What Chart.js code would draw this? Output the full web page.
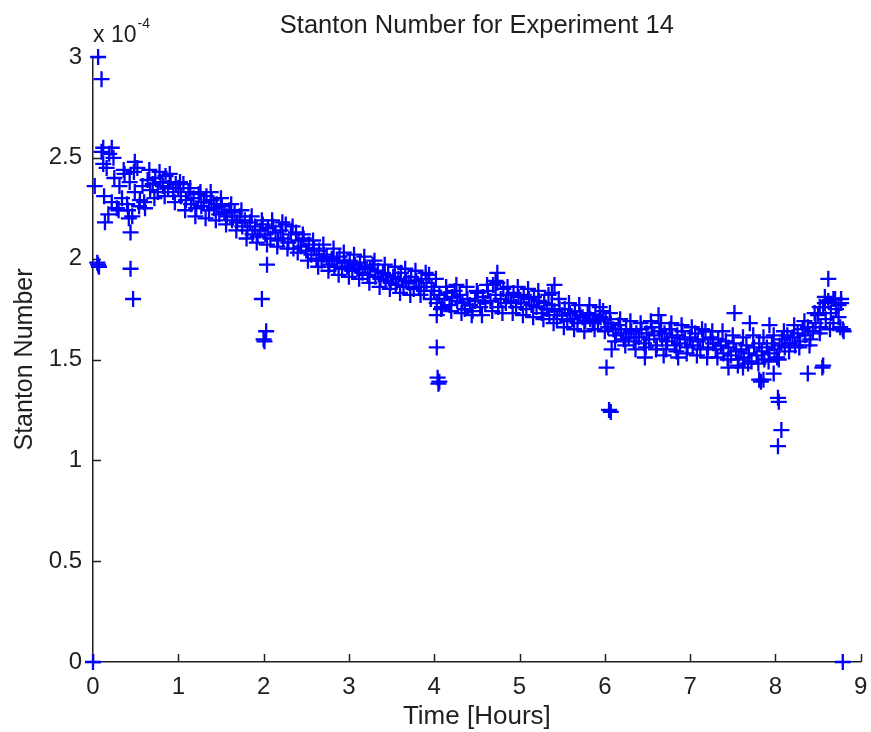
<!DOCTYPE html>
<html><head><meta charset="utf-8">
<script src="https://cdn.jsdelivr.net/npm/chart.js@4/dist/chart.umd.min.js"></script>
<style>html,body{margin:0;padding:0;background:#fff;overflow:hidden;}</style>
</head><body>
<canvas id="c" width="871" height="732"></canvas>
<script>
// Time in hours, main band
const hours = [
0.10,0.13,0.16,0.19,0.22,0.25,0.28,0.31,0.34,0.37,
0.40,0.43,0.46,0.49,0.52,0.55,0.58,0.61,0.64,0.67,
0.70,0.73,0.76,0.79,0.82,0.85,0.88,0.91,0.94,0.97,
1.00,1.03,1.06,1.09,1.12,1.15,1.18,1.21,1.24,1.27,
1.30,1.33,1.36,1.39,1.42,1.45,1.48,1.51,1.54,1.57,
1.60,1.63,1.66,1.69,1.72,1.75,1.78,1.81,1.84,1.87,
1.90,1.93,1.96,1.99,2.02,2.05,2.08,2.11,2.14,2.17,
2.20,2.23,2.26,2.29,2.32,2.35,2.38,2.41,2.44,2.47,
2.50,2.53,2.56,2.59,2.62,2.65,2.68,2.71,2.74,2.77,
2.80,2.83,2.86,2.89,2.92,2.95,2.98,3.01,3.04,3.07,
3.10,3.13,3.16,3.19,3.22,3.25,3.28,3.31,3.34,3.37,
3.40,3.43,3.46,3.49,3.52,3.55,3.58,3.61,3.64,3.67,
3.70,3.73,3.76,3.79,3.82,3.85,3.88,3.91,3.94,3.97,
4.00,4.03,4.06,4.09,4.12,4.15,4.18,4.21,4.24,4.27,
4.30,4.33,4.36,4.39,4.42,4.45,4.48,4.51,4.54,4.57,
4.60,4.63,4.66,4.69,4.72,4.75,4.78,4.81,4.84,4.87,
4.90,4.93,4.96,4.99,5.02,5.05,5.08,5.11,5.14,5.17,
5.20,5.23,5.26,5.29,5.32,5.35,5.38,5.41,5.44,5.47,
5.50,5.53,5.56,5.59,5.62,5.65,5.68,5.71,5.74,5.77,
5.80,5.83,5.86,5.89,5.92,5.95,5.98,6.01,6.04,6.07,
6.10,6.13,6.16,6.19,6.22,6.25,6.28,6.31,6.34,6.37,
6.40,6.43,6.46,6.49,6.52,6.55,6.58,6.61,6.64,6.67,
6.70,6.73,6.76,6.79,6.82,6.85,6.88,6.91,6.94,6.97,
7.00,7.03,7.06,7.09,7.12,7.15,7.18,7.21,7.24,7.27,
7.30,7.33,7.36,7.39,7.42,7.45,7.48,7.51,7.54,7.57,
7.60,7.63,7.66,7.69,7.72,7.75,7.78,7.81,7.84,7.87,
7.90,7.93,7.96,7.99,8.02,8.05,8.08,8.11,8.14,8.17,
8.20,8.23,8.26,8.29,8.32,8.35,8.38,8.41,8.44,8.47,
8.50,8.53,8.56,8.59,8.62,8.65,8.68,8.71,8.74,8.77,
8.80];
// Stanton number (x 10^-4), main band
const stanton = [
2.53,2.31,2.45,2.52,2.28,2.40,2.25,2.36,2.30,2.42,
2.27,2.38,2.21,2.33,2.45,2.29,2.36,2.25,2.39,2.34,
2.37,2.40,2.33,2.38,2.36,2.41,2.35,2.38,2.33,2.37,
2.35,2.31,2.37,2.29,2.33,2.27,2.30,2.25,2.32,2.26,
2.28,2.31,2.24,2.29,2.25,2.27,2.22,2.26,2.23,2.21,
2.24,2.19,2.23,2.18,2.21,2.16,2.19,2.14,2.18,2.12,
2.16,2.11,2.14,2.17,2.12,2.15,2.10,2.16,2.13,2.09,
2.14,2.10,2.17,2.08,2.12,2.05,2.13,2.09,2.06,2.10,
2.04,2.07,2.02,2.05,2.00,2.04,1.99,2.02,2.01,1.97,
2.00,1.96,1.99,2.01,1.95,1.98,1.96,1.99,1.94,1.97,
1.95,1.98,1.93,1.96,1.92,1.95,1.97,1.91,1.94,1.90,
1.93,1.89,1.92,1.88,1.91,1.87,1.90,1.93,1.86,1.89,
1.88,1.91,1.85,1.89,1.86,1.90,1.84,1.88,1.92,1.86,
1.84,1.78,1.82,1.76,1.80,1.83,1.77,1.81,1.84,1.79,
1.82,1.78,1.75,1.80,1.77,1.74,1.79,1.83,1.76,1.81,
1.78,1.84,1.79,1.87,1.82,1.76,1.80,1.85,1.78,1.82,
1.79,1.83,1.76,1.81,1.78,1.82,1.75,1.80,1.77,1.81,
1.76,1.79,1.73,1.78,1.75,1.72,1.77,1.74,1.70,1.75,
1.72,1.75,1.69,1.73,1.70,1.74,1.68,1.72,1.71,1.69,
1.73,1.70,1.68,1.72,1.69,1.71,1.74,1.70,1.66,1.68,
1.65,1.62,1.67,1.63,1.60,1.65,1.61,1.64,1.59,1.63,
1.61,1.65,1.58,1.63,1.60,1.66,1.62,1.57,1.64,1.60,
1.63,1.59,1.65,1.61,1.57,1.62,1.58,1.64,1.60,1.56,
1.61,1.57,1.63,1.59,1.55,1.60,1.64,1.56,1.61,1.58,
1.55,1.60,1.57,1.53,1.59,1.56,1.52,1.58,1.54,1.50,
1.55,1.51,1.57,1.53,1.49,1.56,1.52,1.58,1.54,1.50,
1.56,1.53,1.58,1.55,1.51,1.57,1.60,1.56,1.62,1.58,
1.61,1.57,1.63,1.59,1.65,1.62,1.66,1.60,1.64,1.68,
1.72,1.66,1.76,1.70,1.79,1.73,1.68,1.75,1.71,1.78,
1.64];
// Second pass of readings (interleaved times), main band edges
const hours2 = [
0.12,0.18,0.24,0.30,0.36,0.42,0.48,0.54,0.60,0.66,
0.72,0.78,0.84,0.90,0.96,1.02,1.08,1.14,1.20,1.26,
1.32,1.38,1.44,1.50,1.56,1.62,1.68,1.74,1.80,1.86,
1.92,1.98,2.04,2.10,2.16,2.22,2.28,2.34,2.40,2.46,
2.52,2.58,2.64,2.70,2.76,2.82,2.88,2.94,3.00,3.06,
3.12,3.18,3.24,3.30,3.36,3.42,3.48,3.54,3.60,3.66,
3.72,3.78,3.84,3.90,3.96,4.02,4.08,4.14,4.20,4.26,
4.32,4.38,4.44,4.50,4.56,4.62,4.68,4.74,4.80,4.86,
4.92,4.98,5.04,5.10,5.16,5.22,5.28,5.34,5.40,5.46,
5.52,5.58,5.64,5.70,5.76,5.82,5.88,5.94,6.00,6.06,
6.12,6.18,6.24,6.30,6.36,6.42,6.48,6.54,6.60,6.66,
6.72,6.78,6.84,6.90,6.96,7.02,7.08,7.14,7.20,7.26,
7.32,7.38,7.44,7.50,7.56,7.62,7.68,7.74,7.80,7.86,
7.92,7.98,8.04,8.10,8.16,8.22,8.28,8.34,8.40,8.46,
8.52,8.58,8.64,8.70,8.76];
const stanton2 = [
2.47,2.22,2.50,2.24,2.44,2.20,2.43,2.26,2.28,2.44,
2.30,2.43,2.31,2.42,2.28,2.38,2.24,2.35,2.21,2.33,
2.20,2.33,2.19,2.30,2.17,2.27,2.14,2.24,2.10,2.21,
2.08,2.19,2.07,2.19,2.06,2.18,2.05,2.16,2.03,2.12,
1.99,2.09,1.96,2.07,1.94,2.05,1.92,2.03,1.91,2.02,
1.90,2.01,1.88,1.99,1.86,1.97,1.85,1.96,1.83,1.95,
1.82,1.94,1.82,1.93,1.80,1.90,1.75,1.86,1.74,1.87,
1.73,1.86,1.72,1.84,1.72,1.87,1.74,1.88,1.73,1.86,
1.73,1.86,1.72,1.85,1.71,1.84,1.70,1.82,1.68,1.80,
1.66,1.78,1.65,1.77,1.64,1.77,1.65,1.76,1.64,1.73,
1.59,1.70,1.57,1.69,1.55,1.68,1.56,1.69,1.55,1.68,
1.55,1.68,1.54,1.67,1.53,1.66,1.52,1.65,1.51,1.64,
1.51,1.64,1.50,1.62,1.47,1.61,1.48,1.62,1.48,1.61,
1.49,1.62,1.50,1.64,1.54,1.67,1.56,1.69,1.57,1.73,
1.63,1.81,1.65,1.80,1.66];
// Scattered / outlying readings
const outlierHours = [
0.00,8.79,0.06,0.10,0.02,0.05,0.07,0.06,0.14,0.44,0.44,0.47,0.12,0.22,0.49,0.41,
2.04,1.98,2.03,2.00,2.01,
4.03,4.03,4.04,4.06,4.05,
4.74,4.72,5.41,5.38,
6.02,6.08,6.05,6.07,
6.63,7.52,7.70,7.93,6.47,6.86,6.69,7.45,7.62,7.81,7.83,7.98,7.86,
8.03,8.04,8.07,8.03,
8.62,8.55,8.38,8.56,8.77,8.79,8.74,8.68,8.58,8.52];
const outlierStanton = [
0.00,0.00,3.00,2.89,2.36,1.98,1.96,1.97,2.18,2.13,1.95,1.80,2.55,2.55,2.48,2.24,
1.97,1.80,1.64,1.60,1.59,
1.72,1.56,1.41,1.39,1.38,
1.93,1.89,1.87,1.83,
1.46,1.55,1.25,1.24,
1.72,1.73,1.68,1.67,1.51,1.51,1.52,1.46,1.46,1.40,1.39,1.43,1.40,
1.31,1.29,1.15,1.07,
1.90,1.46,1.43,1.47,1.80,1.65,1.77,1.80,1.78,1.76];

const xTicks = [0,1,2,3,4,5,6,7,8,9];
const yTicks = [0,0.5,1,1.5,2,2.5,3];
const chartTitle = 'Stanton Number for Experiment 14';
const xTitle = 'Time [Hours]';
const yTitle = 'Stanton Number';
const exponentBase = 'x 10';
const exponentPower = '-4';

const FONT = '"Liberation Sans", Arial, sans-serif';
const TXT = '#1f1f1f';

const points = hours.map((h, i) => ({x: h, y: stanton[i]}))
  .concat(hours2.map((h, i) => ({x: h, y: stanton2[i]})))
  .concat(outlierHours.map((h, i) => ({x: h, y: outlierStanton[i]})));

const decor = {
  id: 'decor',
  beforeDatasetsDraw(chart) {
    const {ctx, scales: {x, y}, chartArea: a} = chart;
    ctx.save();
    ctx.strokeStyle = TXT; ctx.lineWidth = 1.5;
    xTicks.forEach(v => {
      const px = Math.round(x.getPixelForValue(v)) + 0.5;
      ctx.beginPath(); ctx.moveTo(px, a.bottom); ctx.lineTo(px, a.bottom - 8); ctx.stroke();
    });
    yTicks.forEach(v => {
      const py = Math.round(y.getPixelForValue(v)) + 0.5;
      ctx.beginPath(); ctx.moveTo(a.left, py); ctx.lineTo(a.left + 8, py); ctx.stroke();
    });
    ctx.restore();
  },
  afterDraw(chart) {
    const {ctx, chartArea: a} = chart;
    ctx.save();
    ctx.fillStyle = TXT;
    ctx.textBaseline = 'alphabetic';
    ctx.textAlign = 'center';
    ctx.font = '25.5px ' + FONT;
    ctx.fillText(chartTitle, (a.left + a.right) / 2, 33);
    ctx.textAlign = 'left';
    ctx.font = '23px ' + FONT;
    ctx.fillText(exponentBase, 93, 42);
    const w = ctx.measureText(exponentBase).width;
    ctx.font = '14px ' + FONT;
    ctx.fillText(exponentPower, 93 + w + 1, 28);
    ctx.restore();
  }
};

new Chart(document.getElementById('c'), {
  type: 'scatter',
  data: {datasets: [{
    data: points,
    pointStyle: 'cross',
    pointRadius: 8,
    pointHoverRadius: 8,
    pointBorderWidth: 2.3,
    borderColor: '#0000ff',
    backgroundColor: '#0000ff',
    clip: false
  }]},
  options: {
    responsive: false,
    animation: false,
    devicePixelRatio: 1,
    events: [],
    layout: {padding: {top: 57, right: 6, left: 0, bottom: 0}},
    plugins: {legend: {display: false}, title: {display: false}, tooltip: {enabled: false}},
    scales: {
      x: {
        type: 'linear', min: 0, max: 9,
        afterBuildTicks: s => { s.ticks = xTicks.map(v => ({value: v})); },
        grid: {display: false, drawTicks: false},
        border: {display: true, color: TXT, width: 1.5},
        ticks: {color: TXT, font: {family: FONT, size: 24}, padding: 11, maxRotation: 0, autoSkip: false, callback: v => String(v)},
        title: {display: true, text: xTitle, color: TXT, font: {family: FONT, size: 26}, padding: {top: 0, bottom: 0}},
        afterFit: s => { s.height = 70; s.paddingLeft = 0; s.paddingRight = 0; }
      },
      y: {
        type: 'linear', min: 0, max: 3,
        afterBuildTicks: s => { s.ticks = yTicks.map(v => ({value: v})); },
        grid: {display: false, drawTicks: false},
        border: {display: true, color: TXT, width: 1.5},
        ticks: {color: TXT, font: {family: FONT, size: 24}, padding: 11, autoSkip: false, callback: v => String(v)},
        title: {display: true, text: yTitle, color: TXT, font: {family: FONT, size: 25}, padding: {top: 10, bottom: 0}},
        afterFit: s => { s.width = 93; s.paddingTop = 0; s.paddingBottom = 0; }
      }
    }
  },
  plugins: [decor]
});
</script>
</body></html>
